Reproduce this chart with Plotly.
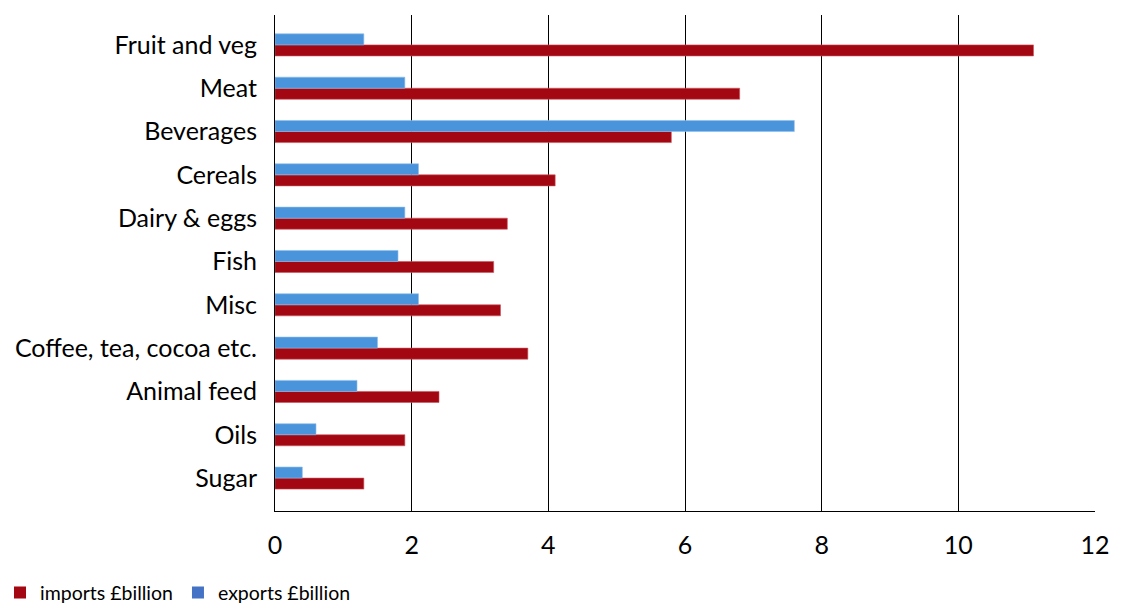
import plotly.graph_objects as go

categories = ["Fruit and veg", "Meat", "Beverages", "Cereals", "Dairy & eggs", "Fish",
              "Misc", "Coffee, tea, cocoa etc.", "Animal feed", "Oils", "Sugar"]
imports = [11.1, 6.8, 5.8, 4.1, 3.4, 3.2, 3.3, 3.7, 2.4, 1.9, 1.3]
exports = [1.3, 1.9, 7.6, 2.1, 1.9, 1.8, 2.1, 1.5, 1.2, 0.6, 0.4]
x_ticks = [0, 2, 4, 6, 8, 10, 12]

imp_color = "#A30711"
exp_bar_color = "#4A94DC"
exp_legend_color = "#4472C4"
font = "Lato"

fig = go.Figure()
fig.add_trace(go.Bar(y=categories, x=imports, orientation="h", name="imports £billion",
                     marker=dict(color=imp_color, line=dict(color="#C9555C", width=0.6)),
                     showlegend=False))
fig.add_trace(go.Bar(y=categories, x=exports, orientation="h", name="exports £billion",
                     marker=dict(color=exp_bar_color, line=dict(color="#8DBDEB", width=0.6)),
                     showlegend=False))
# legend entries
fig.add_trace(go.Scatter(y=[None], x=[None], mode="markers", name="imports £billion",
                         marker=dict(color=imp_color, symbol="square", size=12)))
fig.add_trace(go.Scatter(y=[None], x=[None], mode="markers", name="exports £billion",
                         marker=dict(color=exp_legend_color, symbol="square", size=12)))

fig.update_layout(
    width=1121, height=603,
    margin=dict(l=275, r=26, t=15, b=92),
    paper_bgcolor="white", plot_bgcolor="white",
    barmode="group", bargap=0.49, bargroupgap=0,
    font=dict(family=font, size=25, color="black"),
    xaxis=dict(range=[0, 12], tickvals=x_ticks, showgrid=True, gridcolor="black", gridwidth=1,
               zeroline=False, showline=True, linecolor="black", linewidth=1,
               ticks="", ticklabelstandoff=12, tickfont=dict(size=25), automargin=False),
    yaxis=dict(categoryorder="array", categoryarray=categories[::-1], range=[-0.76, 10.69],
               showline=True, linecolor="black", linewidth=1, ticks="",
               showgrid=False, tickfont=dict(size=25), ticklabelstandoff=12, automargin=False),
    legend=dict(orientation="h", xref="container", yref="container", x=0.0, y=0.017,
                xanchor="left", yanchor="middle", font=dict(size=19.5),
                itemwidth=30, traceorder="normal", tracegroupgap=0),
)
fig.write_html("out.html", post_script="document.body.style.margin='0';",
               config={"displayModeBar": False})
